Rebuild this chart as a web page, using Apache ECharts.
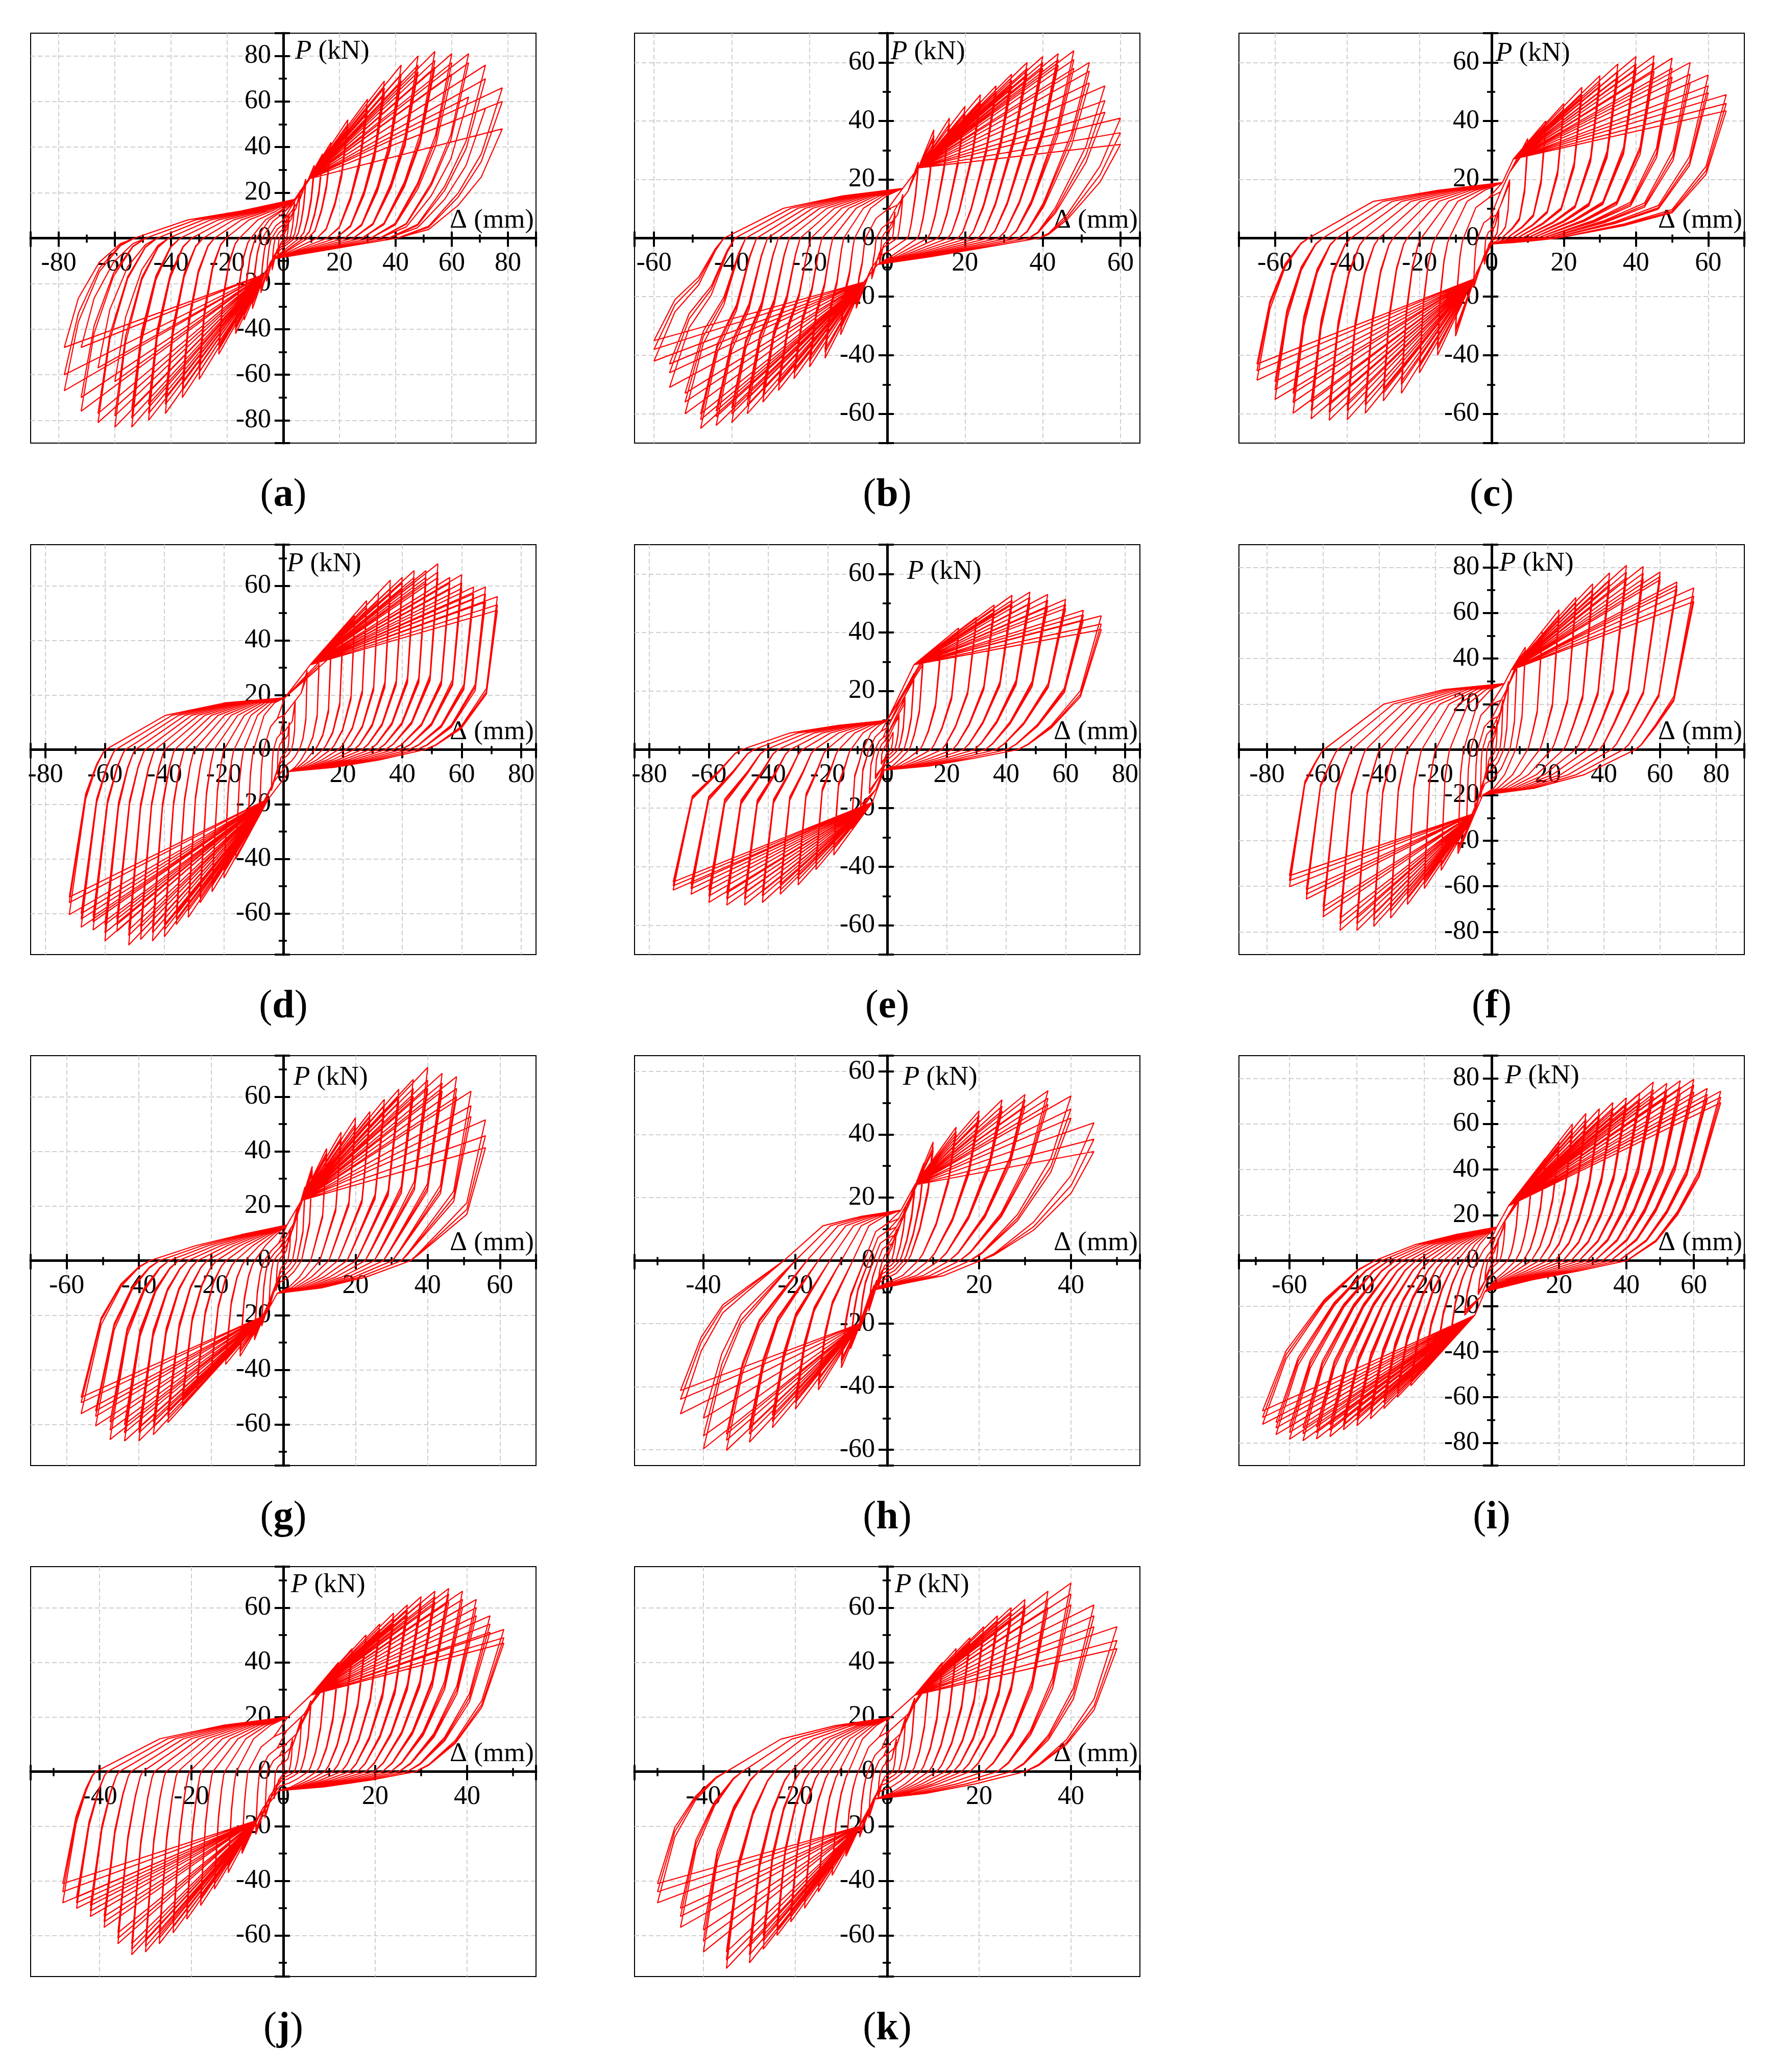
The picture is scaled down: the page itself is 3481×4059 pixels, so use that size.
<!DOCTYPE html>
<html>
<head>
<meta charset="utf-8">
<script src="https://cdn.jsdelivr.net/npm/echarts@6.0.0/dist/echarts.min.js"></script>
<style>
  html, body { margin: 0; padding: 0; background: #fff; }
  #chart { width: 3481px; height: 4059px; }
</style>
</head>
<body>
<div id="chart"></div>
<script>
// panels (a)..(k): axis half-ranges
const panelIds = ['a', 'b', 'c', 'd', 'e', 'f', 'g', 'h', 'i', 'j', 'k'];
const xLimit = [90, 65, 70, 85, 85, 90, 70, 55, 75, 55, 55];
const yLimit = [90, 70, 70, 75, 70, 90, 75, 65, 90, 75, 75];

// displacement levels (mm) and peak loads (kN) of the three cycles at each level
const levelsA = [2, 4, 6, 8, 11, 14, 17, 23, 30, 36, 42, 48, 54, 60, 66, 72, 78];
const posA = [[10, 9.5, 9], [16, 15, 15], [21, 20, 20], [26, 25, 24], [32, 30, 29], [37, 35, 34], [42, 40, 39], [52, 50, 48], [61, 58, 56], [69, 66, 63], [76, 72, 69], [80, 76, 73], [82, 78, 75], [81, 77, 72], [81, 77, 62], [76, 70, 57], [66, 60, 48]];
const negA = [[9, 9, 8.5], [14, 13, 13], [19, 18, 18], [24, 23, 22], [31, 29, 28], [36, 34, 33], [42, 40, 39], [51, 49, 47], [62, 59, 56], [70, 67, 64], [77, 73, 70], [80, 77, 73], [83, 79, 75], [83, 78, 63], [81, 77, 57], [76, 70, 48], [67, 60, 48]];

const levelsB = [2, 4, 8, 12, 16, 20, 24, 28, 32, 36, 40, 44, 48, 52, 56, 60];
const posB = [[9, 9, 8.5], [15, 14, 14], [26, 25, 24], [37, 35, 34], [41, 39, 38], [45, 43, 42], [49, 47, 46], [52, 50, 49], [56, 54, 52], [60, 58, 56], [62, 60, 58], [63, 61, 59], [64, 61, 58], [60, 57, 53], [52, 47, 43], [41, 36, 32]];
const negB = [[9, 8.5, 8], [14, 13, 13], [24, 23, 22], [33, 31, 30], [41, 39, 38], [44, 42, 41], [48, 46, 45], [52, 50, 49], [56, 54, 52], [60, 57, 55], [63, 60, 58], [64, 61, 59], [65, 62, 60], [60, 56, 53], [51, 46, 43], [42, 38, 35]];

const levelsC = [2, 5, 10, 15, 20, 25, 30, 35, 40, 45, 50, 55, 60, 65];
const posC = [[10, 9.5, 9], [20, 19, 19], [34, 32, 31], [40, 38, 37], [46, 44, 43], [51.5, 49, 48], [55.5, 53, 52], [59.5, 57, 55], [62, 59.5, 57.5], [62.3, 60, 57], [61.5, 58, 55], [60, 56, 53], [55.7, 52, 49.6], [49, 46, 43.5]];
const negC = [[9, 8.5, 8], [17, 16, 16], [33.5, 32, 31], [40, 38, 37], [46, 44, 43], [53, 50, 49], [55.6, 53, 51.5], [59.8, 57, 55], [62, 59, 57], [62.2, 59.5, 57], [61.7, 58.9, 56], [59.8, 56.1, 53], [55.1, 51.8, 49], [48.5, 45.3, 43]];

const levelsD = [2, 4, 8, 12, 16, 20, 24, 28, 32, 36, 40, 44, 48, 52, 56, 60, 64, 68, 72];
const posD = [[10, 9, 9], [18, 17, 17], [29, 28, 27], [32, 31, 30], [37, 35, 34], [43, 41, 40], [49, 47, 46], [54.5, 52, 51], [57.5, 55, 54], [62, 59, 57], [63, 61, 59], [65.5, 63, 61], [65.5, 63, 61], [68, 65, 63], [63, 61, 59], [64, 61, 59], [59.5, 57, 55], [59.5, 57, 54], [56, 53, 51]];
const negD = [[9, 9, 8], [15, 14, 14], [24, 23, 22], [32, 30, 29], [40, 38, 37], [47, 45, 44], [52, 50, 49], [56, 54, 52], [61.4, 59, 57], [64, 62, 60], [68.5, 66, 64], [70, 67, 65], [69.5, 67, 65], [71.5, 68, 66], [66.5, 64, 62], [70, 67, 64], [66, 63, 61], [65, 62, 60], [60.4, 56, 54]];

const levelsE = [2, 4, 6, 9, 12, 18, 24, 30, 36, 42, 48, 54, 60, 66, 72];
const posE = [[6, 5.5, 5.5], [12, 11, 11], [18, 17, 16], [26, 25, 24], [31, 30, 29], [35.4, 34, 33], [41.5, 40, 39], [45.2, 44, 43], [49.4, 48, 46.5], [52.7, 51, 49.5], [53.8, 52, 50], [53, 51, 49], [51.3, 49.5, 48.2], [47.6, 46, 44.3], [45.7, 42.9, 41]];
const negE = [[5, 5, 4.5], [10, 9.5, 9], [15, 14, 14], [21, 20, 19], [27, 26, 25], [36, 34, 33], [41, 39.5, 38], [46.2, 44.5, 43], [49.4, 48, 46], [52.2, 50, 48.5], [53.1, 51, 49], [53.1, 51, 49], [52.2, 50, 48], [49.4, 47.5, 46], [48, 46.5, 45.2]];

const levelsF = [2, 4, 6, 9, 12, 18, 24, 30, 36, 42, 48, 54, 60, 66, 72];
const posF = [[13, 12, 12], [22, 21, 20], [30, 29, 28], [38, 37, 36], [45, 43.5, 42.5], [52, 50, 49], [61.4, 59, 57.5], [66.8, 64.5, 63], [72.8, 70, 68], [77.6, 74.5, 72.5], [80.9, 78, 75.5], [80.4, 77.5, 75], [78, 76, 74.6], [73.6, 72, 70.4], [71, 67.4, 65]];
const negF = [[13, 12, 12], [21, 20, 20], [28, 27, 26], [36, 35, 34], [45.7, 44, 43], [53, 51, 50], [61, 59, 57], [68, 65.5, 63.5], [74, 71, 69], [77.6, 75, 72.5], [79.4, 76.5, 74], [79.4, 76.5, 74], [73.4, 71, 69], [65.6, 63.5, 61.5], [60.2, 57.5, 55.4]];

const levelsG = [2, 4, 6, 8, 12, 16, 20, 24, 28, 32, 36, 40, 44, 48, 52, 56];
const posG = [[12, 11, 11], [20, 19, 19], [27, 26, 25], [34.5, 33, 32], [41, 39.5, 38.5], [47, 45, 44], [52.3, 50, 49], [54.5, 53, 51.5], [59, 57, 55], [62.7, 60, 58], [66.3, 63, 60], [70.7, 66, 63], [68.5, 65, 62], [67.3, 63, 60], [62, 56.7, 52.7], [51.5, 45.7, 41.3]];
const negG = [[11, 10, 10], [18, 17, 17], [24, 23, 22], [29, 28, 27], [35, 33.5, 32.5], [38, 36.5, 35.5], [41.5, 40, 39], [47, 45, 44], [53, 51, 49.5], [59.3, 57, 55], [63.7, 61, 59], [66, 63, 61], [66, 63, 60], [65.5, 62, 59], [60.5, 57, 55], [56, 52, 50]];

const levelsH = [2, 4, 6, 8, 10, 15, 20, 25, 30, 35, 40, 45];
const posH = [[10, 9.5, 9], [17, 16, 16], [24, 23, 22], [31, 30, 29], [37.6, 36, 35], [42.3, 41, 40], [47.5, 46, 44.5], [51, 49, 47.5], [52.7, 51, 49], [53.9, 51.5, 49.5], [52.2, 48.1, 45.2], [43.7, 38.5, 34.6]];
const negH = [[9, 8.5, 8], [16, 15, 15], [22, 21, 20], [28, 27, 26], [34, 32.5, 31.5], [41, 39.5, 38], [47.1, 45, 43.5], [53, 51, 49], [57.6, 55, 53], [60.2, 57, 55], [59.7, 55.6, 50], [48.6, 44, 41.2]];

const levelsI = [2, 4, 8, 12, 16, 20, 24, 28, 32, 36, 40, 44, 48, 52, 56, 60, 64, 68];
const posI = [[10, 9.5, 9], [17, 16, 16], [28, 27, 26], [37, 36, 35], [45, 43, 42], [52, 50, 49], [60, 58, 56], [64.6, 62, 60], [66.7, 64, 62], [69.4, 67, 65], [71.5, 69, 67], [73.6, 71, 69], [78.4, 75, 72], [77.8, 75, 72.5], [79, 76, 73], [79.6, 77, 74], [75.6, 73, 71], [74.4, 71.8, 69.4]];
const negI = [[9, 8.5, 8], [15, 14, 14], [24, 23, 22], [32, 31, 30], [40, 38.5, 37.5], [48, 46, 45], [55, 53, 51], [60, 58, 56], [65, 62.5, 60.5], [69.5, 67, 65], [72.5, 70, 68], [74.3, 72, 70], [77.3, 74.5, 72], [78.3, 75.5, 73], [79.1, 76, 73.5], [78.5, 75.5, 73], [76.4, 73.5, 71], [71.9, 68.9, 66]];

const levelsJ = [2, 4, 6, 9, 12, 15, 18, 21, 24, 27, 30, 33, 36, 39, 42, 45, 48];
const posJ = [[12, 11, 11], [20, 19, 19], [26, 25, 24], [33, 32, 31], [40, 38, 37], [45, 43, 42], [50, 48, 47], [54, 52, 51], [58, 56, 54], [61, 59, 57], [64, 62, 60], [66, 64, 62], [67, 65, 62], [66, 63, 60], [63, 60, 57], [57, 54, 51], [52, 49, 47]];
const negJ = [[10, 9, 9], [17, 16, 16], [23, 22, 21], [30, 29, 28], [37, 35, 34], [43, 41, 40], [49, 47, 46], [54, 52, 50], [59, 57, 55], [63, 61, 59], [66, 64, 62], [67, 65, 63], [63, 61, 59], [57, 55, 53], [53, 51, 49], [50, 48, 46], [48, 44, 41]];

const levelsK = [2, 4, 6, 9, 12, 15, 18, 21, 24, 27, 30, 35, 40, 45, 50];
const posK = [[12, 11, 11], [20, 19, 19], [27, 26, 25], [34, 33, 32], [40, 38, 37], [45, 43, 42], [49, 47, 46], [53, 51, 50], [57, 55, 53], [60, 58, 56], [63, 61, 59], [66, 63, 60], [69, 65, 61], [61, 57, 53], [53, 48, 45]];
const negK = [[10, 9, 9], [17, 16, 16], [24, 23, 22], [31, 30, 29], [38, 36, 35], [44, 42, 41], [50, 48, 47], [55, 53, 51], [60, 58, 56], [65, 62, 60], [70, 67, 64], [72, 69, 66], [66, 62, 58], [57, 53, 50], [48, 44, 41]];

// loop shape read per panel: pinch points, knees, zero-load crossings, unloading and slip branches
const pinchPos = [[4, 17], [4, 17], [3, 19], [0.5, 19], [0, 10], [4.5, 29], [1, 13], [3, 16], [1.5, 14.7], [1, 20], [0.6, 19.8]];
const pinchNeg = [[-3, -9], [-2.5, -9], [0, -2], [2, -8], [-1, -7], [-3.2, -20], [-1.7, -12], [-3.5, -9.5], [-2, -13.6], [-1, -7], [-2.6, -10]];
const kneePos = [[9, 26], [8, 24], [6, 27], [9, 31], [9, 29], [7, 35], [5, 22], [6, 24], [5, 24], [6, 28], [6, 28]];
const kneeNeg = [[-7, -16], [-6, -15], [-5, -14], [-5, -18], [-5, -18], [-6, -28], [-5, -20], [-6, -20], [-5, -24], [-6, -18], [-6, -20]];
const zeroPos = [0.52, 0.65, 0.28, 0.66, 0.61, 0.71, 0.63, 0.45, 0.59, 0.6, 0.6];
const zeroNeg = [0.68, 0.7, 0.78, 0.83, 0.68, 0.83, 0.66, 0.5, 0.51, 0.85, 0.7];
const unloadPosF = [[0.8, 0.58, 0.3], [0.75, 0.35, 0.12], [0.88, 0.68, 0.4], [0.85, 0.5, 0.15], [0.75, 0.4, 0.12], [0.66, 0.34, 0.1], [0.75, 0.3, 0.1], [0.8, 0.47, 0.12], [0.77, 0.54, 0.31], [0.75, 0.45, 0.15], [0.75, 0.45, 0.15]];
const unloadPosG = [[0.56, 0.3, 0.08], [0.6, 0.2, 0.04], [0.5, 0.2, 0.1], [0.4, 0.15, 0.03], [0.44, 0.18, 0.04], [0.33, 0.15, 0.03], [0.41, 0.16, 0.05], [0.62, 0.28, 0.05], [0.53, 0.29, 0.12], [0.5, 0.22, 0.05], [0.5, 0.22, 0.05]];
const unloadNegF = [[0.8, 0.5, 0.2], [0.7, 0.36, 0.12], [0.75, 0.45, 0.15], [0.55, 0.25, 0.07], [0.72, 0.33, 0.1], [0.55, 0.25, 0.07], [0.71, 0.42, 0.16], [0.8, 0.59, 0.35], [0.79, 0.45, 0.15], [0.6, 0.3, 0.1], [0.75, 0.45, 0.15]];
const unloadNegG = [[0.55, 0.22, 0.05], [0.6, 0.38, 0.1], [0.5, 0.2, 0.04], [0.3, 0.1, 0.02], [0.35, 0.16, 0.03], [0.25, 0.1, 0.02], [0.42, 0.17, 0.045], [0.59, 0.34, 0.2], [0.6, 0.26, 0.06], [0.4, 0.15, 0.03], [0.5, 0.22, 0.05]];
const slipPos = [[0.33, 0.67], [0.35, 0.7], [0.4, 0.75], [0.47, 0.81], [0.43, 0.8], [0.55, 0.85], [0.5, 0.83], [0.5, 0.74], [0.33, 0.62], [0.45, 0.8], [0.45, 0.8]];
const slipNeg = [[0.47, 0.7], [0.6, 0.85], [0.66, 0.86], [0.66, 0.9], [0.57, 0.83], [0.69, 0.91], [0.42, 0.73], [0.69, 0.88], [0.48, 0.78], [0.6, 0.85], [0.6, 0.85]];

const levelsAll = [levelsA, levelsB, levelsC, levelsD, levelsE, levelsF, levelsG, levelsH, levelsI, levelsJ, levelsK];
const posAll = [posA, posB, posC, posD, posE, posF, posG, posH, posI, posJ, posK];
const negAll = [negA, negB, negC, negD, negE, negF, negG, negH, negI, negJ, negK];

// y-axis name placement (px right of axis, px below top)
const nameOffX = [23, 7, 8, 7, 39, 15, 20, 31, 26, 15, 15];
const nameOffY = [36, 37, 40, 38, 53, 37, 43, 43, 40, 36, 36];

const FONT = 'Liberation Serif';
const colLeft = [60, 1243, 2427];
const rowTop = [65, 1067, 2068, 3069];
const W = 990, H = 803;

function scalePt(p, s) { return [p[0] * s, p[1] * s]; }

// turn the read peaks into the drawn force-displacement path
function loopPath(i) {
  const pts = [[0, 0]];
  const levels = levelsAll[i];
  levels.forEach((D, li) => {
    const s = Math.min(1, D / 12);
    const pos = posAll[i][li], neg = negAll[i][li];
    for (let c = 0; c < pos.length; c++) {
      const P = pos[c], N = neg[c];
      const pp = scalePt(pinchPos[i], s), kp = scalePt(kneePos[i], s);
      const pn = scalePt(pinchNeg[i], s), kn = scalePt(kneeNeg[i], s);
      pts.push(pp);
      if (kp[0] < D * 0.85 && kp[1] < P * 0.9) pts.push(kp);
      pts.push([D, P]);
      const zp = zeroPos[i] * D;
      for (let k = 0; k < 3; k++) pts.push([zp + (D - zp) * unloadPosF[i][k], P * unloadPosG[i][k]]);
      pts.push([zp, 0]);
      [1 / 3, 2 / 3].forEach((t, k) => pts.push([zp + (pn[0] - zp) * t, pn[1] * slipPos[i][k]]));
      pts.push(pn);
      if (-kn[0] < D * 0.85 && -kn[1] < N * 0.9) pts.push(kn);
      pts.push([-D, -N]);
      const zn = zeroNeg[i] * D;
      for (let k = 0; k < 3; k++) pts.push([-(zn + (D - zn) * unloadNegF[i][k]), -N * unloadNegG[i][k]]);
      pts.push([-zn, 0]);
      [1 / 3, 2 / 3].forEach((t, k) => pts.push([-zn + (pp[0] + zn) * t, pp[1] * slipNeg[i][k]]));
    }
  });
  pts.push(scalePt(pinchPos[i], 1));
  return pts;
}

// axes cross at the origin; ranges are symmetric, so the offset is half the plot size
function makeAxis(dim, i, lim, primary) {
  const ax = {
    type: 'value',
    gridIndex: i,
    min: -lim,
    max: lim,
    splitNumber: Math.round(2 * lim / 20),
    position: dim === 'x' ? 'bottom' : 'left',
    offset: dim === 'x' ? -H / 2 : -W / 2,
    axisLine: { show: primary, onZero: false, lineStyle: { color: '#000', width: 5 } },
    axisTick: { show: true, inside: !primary, length: primary ? 17 : 13, lineStyle: { color: '#000', width: 4 } },
    minorTick: { show: true, splitNumber: 2, length: primary ? 9 : 7, lineStyle: { color: '#000', width: 3.5 } },
    splitLine: { show: primary, showMinLine: false, showMaxLine: false, lineStyle: { color: '#cfcfcf', width: 2, type: [9, 5] } },
    axisLabel: { show: primary, showMinLabel: false, showMaxLabel: false, fontFamily: FONT, fontSize: 52, color: '#000', margin: 24 },
    silent: true,
    z: 1
  };
  if (primary && dim === 'x') {
    ax.name = 'Δ (mm)';
    ax.nameLocation = 'end';
    ax.nameGap = -4;
    ax.nameMoveOverlap = false;
    ax.nameTextStyle = { fontFamily: FONT, fontSize: 53, color: '#000', align: 'right', verticalAlign: 'bottom', padding: [0, 0, 8, 0] };
  }
  if (primary && dim === 'y') {
    ax.name = '{i|P} (kN)';
    ax.nameLocation = 'end';
    ax.nameGap = -nameOffY[i];
    ax.nameMoveOverlap = false;
    ax.nameTextStyle = {
      fontFamily: FONT, fontSize: 53, color: '#000', align: 'left', verticalAlign: 'middle',
      padding: [0, 0, 0, nameOffX[i]],
      rich: { i: { fontFamily: FONT, fontSize: 53, fontStyle: 'italic', color: '#000' } }
    };
  }
  return ax;
}

const grids = [], xAxes = [], yAxes = [], series = [], titles = [];
panelIds.forEach((id, i) => {
  const left = colLeft[i % 3], top = rowTop[Math.floor(i / 3)];
  grids.push({ left: left, top: top, width: W, height: H, show: true, borderColor: '#000', borderWidth: 2, backgroundColor: '#fff' });
  xAxes.push(makeAxis('x', i, xLimit[i], true), makeAxis('x', i, xLimit[i], false));
  yAxes.push(makeAxis('y', i, yLimit[i], true), makeAxis('y', i, yLimit[i], false));
  series.push({
    type: 'line',
    xAxisIndex: 2 * i,
    yAxisIndex: 2 * i,
    data: loopPath(i),
    showSymbol: false,
    symbol: 'none',
    clip: true,
    silent: true,
    z: 3,
    lineStyle: { color: '#ff0000', width: 2.2 }
  });
  titles.push({
    text: '({b|' + id + '})',
    left: left + W / 2,
    top: top + 911 - 44,
    textAlign: 'center',
    padding: 0,
    textStyle: {
      fontFamily: FONT, fontSize: 78, fontWeight: 'normal', color: '#000',
      rich: { b: { fontFamily: FONT, fontSize: 78, fontWeight: 'bold', color: '#000' } }
    }
  });
});

const chart = echarts.init(document.getElementById('chart'), null, { renderer: 'canvas' });
chart.setOption({
  animation: false,
  backgroundColor: '#fff',
  title: titles,
  grid: grids,
  xAxis: xAxes,
  yAxis: yAxes,
  series: series
});
</script>
</body>
</html>
